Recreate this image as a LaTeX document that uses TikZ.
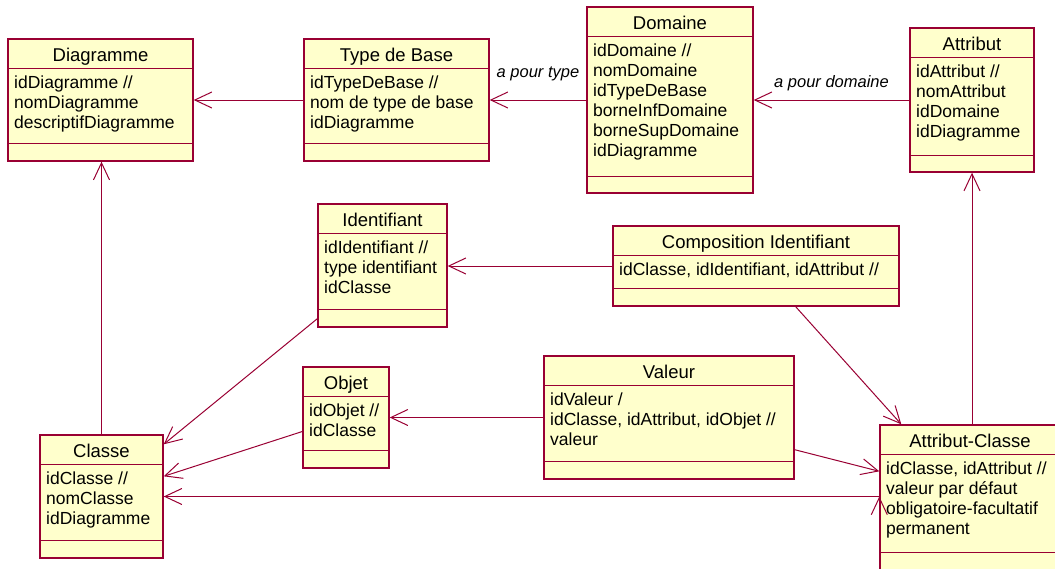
\documentclass[tikz,border=0pt]{standalone}
\usepackage{fontspec}
\setmainfont{Liberation Sans}
\usetikzlibrary{arrows.meta, calc, fit}
\definecolor{umlline}{RGB}{153,0,51}
\definecolor{umlfill}{RGB}{255,255,204}

\tikzset{
  classbox/.style={draw=umlline, fill=umlfill, line width=1.4pt, inner sep=0pt},
  classsep/.style={draw=umlline, line width=0.8pt},
  classtitle/.style={anchor=base, inner sep=0pt, font=\fontsize{18.5}{20}\selectfont},
  classattr/.style={anchor=north west, inner sep=0pt, align=left},
  assoc/.style={draw=umlline, line width=1pt, -{Straight Barb[length=17pt,width=16pt]}},
  role/.style={font=\fontsize{16.5}{20}\selectfont\itshape, inner sep=0pt}
}

% name, left, top, right, bottom, lower separator, title, attributes
\newcommand{\umlclass}[8]{%
  \node[classbox, fit={(#2,#3) (#4,#5)}] (#1) {};
  \draw[classsep] (#2,#3+29) -- (#4,#3+29) (#2,#6) -- (#4,#6);
  \node[classtitle] at ({(#2+#4)/2},#3+22) {#7};
  \node[classattr] at (#2+6,#3+37) {#8};
}

\begin{document}
\begin{tikzpicture}[x=1pt, y=-1pt, font=\fontsize{17.5}{20}\selectfont]
  \useasboundingbox (0,0) rectangle (1055,568);
  \clip (0,0) rectangle (1055,568);

  \umlclass{diag}{8}{39}{193}{161}{143}{Diagramme}{idDiagramme //\\nomDiagramme\\descriptifDiagramme}
  \umlclass{typebase}{304}{39}{489}{161}{143}{Type de Base}{idTypeDeBase //\\nom de type de base\\idDiagramme}
  \umlclass{domaine}{587}{7}{753}{193}{176}{Domaine}{idDomaine //\\nomDomaine\\idTypeDeBase\\borneInfDomaine\\borneSupDomaine\\idDiagramme}
  \umlclass{attribut}{910}{28}{1034}{172}{155}{Attribut}{idAttribut //\\nomAttribut\\idDomaine\\idDiagramme}
  \umlclass{ident}{318}{204}{447}{327}{309}{Identifiant}{idIdentifiant //\\type identifiant\\idClasse}
  \umlclass{compo}{613}{226}{899}{306}{288}{Composition Identifiant}{idClasse, idIdentifiant, idAttribut //}
  \umlclass{classe}{40}{435}{163}{558}{540}{Classe}{idClasse //\\nomClasse\\idDiagramme}
  \umlclass{objet}{303}{367}{389}{468}{450}{Objet}{idObjet //\\idClasse}
  \umlclass{valeur}{544}{356}{794}{479}{461}{Valeur}{idValeur /\\idClasse, idAttribut, idObjet //\\valeur}
  \umlclass{attrcl}{880}{425}{1060}{580}{552}{Attribut-Classe}{idClasse, idAttribut //\\valeur par défaut\\obligatoire-facultatif\\permanent}

  \path[assoc]
    (typebase.west) edge (diag.east)
    (domaine.west) edge node[role, above=19pt] {a pour type} (domaine.west -| typebase.east)
    (attribut.west) edge node[role, above=9pt] {a pour domaine} (attribut.west -| domaine.east)
    (classe.north) edge (classe.north |- diag.south)
    (attrcl.north -| attribut.south) edge (attribut.south)
    (compo.west) edge (compo.west -| ident.east)
    ([xshift=-104pt]compo.south east) edge ([xshift=22pt]attrcl.north west)
    ([yshift=9pt]ident.south west) edge ([yshift=-10pt]classe.north east)
    ([yshift=-14pt]objet.west) edge ([yshift=-42pt]classe.north east)
    (valeur.west) edge (valeur.west -| objet.east)
    ([yshift=30pt]valeur.south east) edge ([yshift=-47pt]attrcl.north west)
    (attrcl.west |- classe.east) edge (classe.east)
    ;
\end{tikzpicture}
\end{document}
